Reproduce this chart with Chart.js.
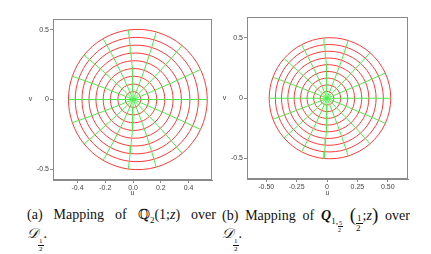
<!DOCTYPE html>
<html>
<head>
<meta charset="utf-8">
<script src="https://cdn.jsdelivr.net/npm/chart.js@4.4.0/dist/chart.umd.min.js"></script>
<style>
  body { margin: 0; background: #fff; width: 431px; height: 254px; overflow: hidden; position: relative; }
  .panel { position: absolute; top: 0; height: 200px; }
  .cap { position: absolute; font-family: "Liberation Serif", "DejaVu Serif", serif; font-size: 14px; color: #111; }
  .l1 { text-align: justify; text-align-last: justify; line-height: 20px; height: 20px; }
  .l2 { line-height: 18px; height: 22px; }
  .fr { display: inline-flex; flex-direction: column; font-size: 7px; line-height: 7px; text-align: center; vertical-align: middle; }
  .fr > span:first-child { border-bottom: 1px solid #111; padding: 0 1px; }
  .fr.low { vertical-align: -5px; }
  .fr.mid { font-size: 9px; line-height: 9px; vertical-align: -1px; }
  .big { font-size: 19px; vertical-align: -1px; }
  sub { font-size: 9px; }
</style>
</head>
<body>
<div class="panel" style="left:0;width:215px"><canvas id="mapA" width="215" height="200"></canvas></div>
<div class="panel" style="left:215px;width:216px"><canvas id="mapB" width="216" height="200"></canvas></div>

<div class="cap" style="left:27px;top:205px;width:189px">
  <div class="l1">(a) Mapping of ℚ<sub>2</sub>(1;<i>z</i>) over</div>
  <div class="l2"><i>𝒟</i><span class="fr low"><span>1</span><span>2</span></span>.</div>
</div>
<div class="cap" style="left:222px;top:205px;width:188px">
  <div class="l1">(b) Mapping of <i><b>Q</b></i><sub>1,</sub><span class="fr low" style="font-size:6px;line-height:6px"><span>5</span><span>2</span></span> <span class="big">(</span><span class="fr mid"><span>1</span><span>2</span></span>;<i>z</i><span class="big">)</span> over</div>
  <div class="l2"><i>𝒟</i><span class="fr low"><span>1</span><span>2</span></span>.</div>
</div>

<script>
// polar grid in the z-disk |z| <= 1/2
const ringRadii = [0.056, 0.111, 0.167, 0.222, 0.278, 0.333, 0.389, 0.444, 0.5];
const spokeAngles = [0, 22.5, 45, 67.5, 90, 112.5, 135, 157.5, 180, 202.5, 225, 247.5, 270, 292.5, 315, 337.5];

const leanA = 0.138;
const leanB = 0.098;

const xTicksA = [-0.4, -0.2, 0, 0.2, 0.4];
const xLabelsA = ['-0.4', '-0.2', '0.0', '0.2', '0.4'];
const xTicksB = [-0.5, -0.25, 0, 0.25, 0.5];
const xLabelsB = ['-0.50', '-0.25', '0', '0.25', '0.50'];
const yTicks = [-0.5, 0, 0.5];
const yLabels = ['-0.5', '0', '0.5'];

const RED = '#ff3838';
const GREEN = '#4aec4a';
const FRAME = '#8a8a8a';

function mapPoint(r, deg, c) {
  const t = deg * Math.PI / 180;
  return {
    x: r * Math.cos(t) + c * r * r * Math.cos(2 * t),
    y: r * Math.sin(t) + c * r * r * Math.sin(2 * t)
  };
}

function buildSets(c) {
  const sets = [];
  // spokes first so they sit on top of the rings
  spokeAngles.forEach(a => {
    sets.push({
      data: [0].concat(ringRadii).map(r => mapPoint(r, a, c)),
      showLine: true, borderColor: GREEN, borderWidth: 1, pointRadius: 0, tension: 0
    });
  });
  ringRadii.forEach(r => {
    const nodes = spokeAngles.map(a => mapPoint(r, a, c));
    const n = nodes.length;
    // wrap one node each side so the closed ring has no corner; hide the two helper segments
    const data = [nodes[n - 1]].concat(nodes, [nodes[0], nodes[1]]);
    const last = data.length - 2;
    sets.push({
      data: data,
      showLine: true, borderColor: RED, borderWidth: 1, pointRadius: 0, tension: 0.34,
      segment: {
        borderColor: ctx => (ctx.p0DataIndex === 0 || ctx.p0DataIndex === last) ? 'rgba(0,0,0,0)' : RED
      }
    });
  });
  return sets;
}

const framePlugin = {
  id: 'frame',
  afterDraw(chart) {
    const { ctx, chartArea: a } = chart;
    ctx.save();
    ctx.strokeStyle = FRAME;
    ctx.lineWidth = 1;
    ctx.strokeRect(Math.round(a.left) + 0.5, Math.round(a.top) + 0.5,
      Math.round(a.right - a.left) - 1, Math.round(a.bottom - a.top) - 1);
    // upright "v" axis name
    ctx.fillStyle = '#444';
    ctx.font = '7px "Liberation Sans", Arial, sans-serif';
    ctx.textAlign = 'center';
    ctx.textBaseline = 'middle';
    ctx.fillText('v', a.left - 22.5, chart.scales.y.getPixelForValue(0));
    ctx.restore();
  }
};

function makeChart(id, c, xr, yr, xTicks, xLabels, pad, yWidth, xHeight) {
  const tickFont = { family: '"Liberation Sans", Arial, sans-serif', size: 7 };
  return new Chart(document.getElementById(id), {
    type: 'scatter',
    data: { datasets: buildSets(c) },
    options: {
      responsive: false,
      animation: false,
      layout: { padding: pad },
      plugins: { legend: { display: false }, tooltip: { enabled: false } },
      scales: {
        x: {
          min: xr[0], max: xr[1],
          afterBuildTicks: s => { s.ticks = xTicks.map(v => ({ value: v })); },
          afterFit: s => { s.height = xHeight; },
          ticks: {
            font: tickFont, color: '#444', padding: 1, maxRotation: 0,
            callback: (v, i) => xLabels[i]
          },
          grid: { drawOnChartArea: false, drawTicks: true, tickLength: 3, color: FRAME },
          border: { color: FRAME },
          title: { display: true, text: 'u', font: tickFont, color: '#444', padding: { top: 0, bottom: 3 } }
        },
        y: {
          min: yr[0], max: yr[1],
          afterBuildTicks: s => { s.ticks = yTicks.map(v => ({ value: v })); },
          afterFit: s => { s.width = yWidth; },
          ticks: {
            font: tickFont, color: '#444', padding: 1,
            callback: (v, i) => yLabels[i]
          },
          grid: { drawOnChartArea: false, drawTicks: true, tickLength: 3, color: FRAME },
          border: { color: FRAME }
        }
      }
    },
    plugins: [framePlugin]
  });
}

makeChart('mapA', leanA, [-0.577, 0.569], [-0.579, 0.579], xTicksA, xLabelsA,
  { left: 0, right: 3, top: 19, bottom: 0 }, 53, 20);
makeChart('mapB', leanB, [-0.658, 0.666], [-0.67, 0.674], xTicksB, xLabelsB,
  { left: 0, right: 23, top: 17, bottom: 0 }, 32, 21);
</script>
</body>
</html>
